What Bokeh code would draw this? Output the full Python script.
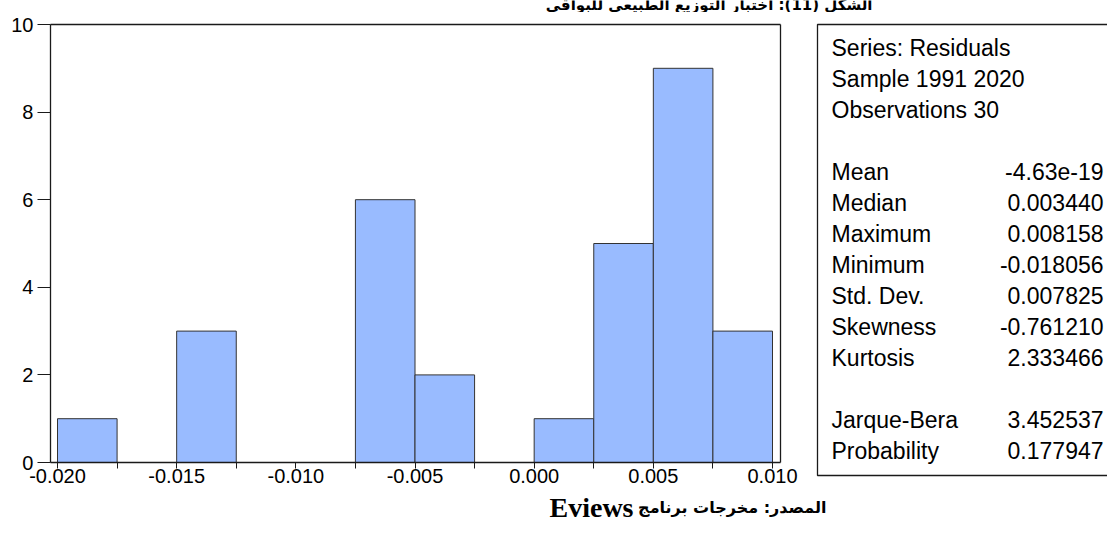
from bokeh.plotting import figure
from bokeh.layouts import column, row
from bokeh.models import Range1d, FixedTicker, PrintfTickFormatter, LinearAxis
from bokeh.core.properties import value
from bokeh.embed import file_html
from bokeh.resources import INLINE

# ---- data -------------------------------------------------------------
bin_left = [-0.0200, -0.0175, -0.0150, -0.0125, -0.0100, -0.0075,
            -0.0050, -0.0025, 0.0000, 0.0025, 0.0050, 0.0075]
bin_width = 0.0025
counts = [1, 0, 3, 0, 0, 6, 2, 0, 1, 5, 9, 3]

x_ticks = [-0.020, -0.015, -0.010, -0.005, 0.000, 0.005, 0.010]
y_ticks = [0, 2, 4, 6, 8, 10]

header_lines = ["Series: Residuals", "Sample 1991 2020", "Observations 30"]
stat_names = ["Mean", "Median", "Maximum", "Minimum", "Std. Dev.", "Skewness", "Kurtosis"]
stat_values = ["-4.63e-19", "0.003440", "0.008158", "-0.018056", "0.007825", "-0.761210", "2.333466"]
test_names = ["Jarque-Bera", "Probability"]
test_values = ["3.452537", "0.177947"]

caption_ar = "المصدر: مخرجات برنامج"
caption_en = "Eviews"
title_txt = "الشكل (11): اختبار التوزيع الطبيعي للبواقي"

RLE, PDF = "\u202b", "\u202c"
SANS = value("Liberation Sans")
AR_FONT = value("DejaVu Sans")
SERIF = value("Liberation Serif")
INK = "#1a1a1a"

W = 1107
TOP_A, BOT_A = 12, 488          # window rows covered by the middle row


def blank(w, h, x0, x1, ytop, ybot):
    f = figure(width=w, height=h, output_backend="svg", toolbar_location=None,
               x_range=Range1d(x0, x1), y_range=Range1d(ybot, ytop),
               x_axis_type=None, y_axis_type=None, min_border=0)
    f.outline_line_color = None
    f.grid.visible = False
    f.background_fill_color = "white"
    f.border_fill_color = "white"
    return f


# ---- clipped title strip ---------------------------------------------
T = blank(W, TOP_A, 0, W, 0, TOP_A)
T.text(x=[872], y=[4], text=[RLE + title_txt + PDF], text_align="right",
       text_baseline="alphabetic", text_font=AR_FONT, text_font_style="bold",
       text_font_size="15px", text_color="black")

# ---- histogram (frame = whole canvas, axes pinned inside) --------------
WA = 798
HA = BOT_A - TOP_A
X0, X1 = -0.020294, 0.010336           # plot-box edges
sx = (772 - 57) / 0.030                # px per x unit
sy = (462 - 24) / 10.0                 # px per count
A = figure(width=WA, height=HA, output_backend="svg", toolbar_location=None,
           x_range=Range1d(-0.020 - 57 / sx, 0.010 + (WA - 772) / sx),
           y_range=Range1d(-(BOT_A - 462) / sy, 10 + (24 - TOP_A) / sy),
           min_border=0, x_axis_location=None, y_axis_location=None)
A.background_fill_color = "white"
A.border_fill_color = "white"
A.outline_line_color = None
A.grid.visible = False

lefts = [l for l, c in zip(bin_left, counts) if c > 0]
rights = [l + bin_width for l, c in zip(bin_left, counts) if c > 0]
tops = [c for c in counts if c > 0]
A.quad(left=lefts, right=rights, bottom=0, top=tops,
       fill_color="#99BBFF", line_color="#333333", line_width=1)

edges = bin_left + [bin_left[-1] + bin_width]
minor = [e for e in edges if all(abs(e - t) > 1e-9 for t in x_ticks)]

xa = LinearAxis(fixed_location=0, bounds=(X0, X1),
                ticker=FixedTicker(ticks=x_ticks, minor_ticks=minor),
                formatter=PrintfTickFormatter(format="%.3f"))
xa.major_tick_out = 6
xa.major_tick_in = 0
xa.minor_tick_out = 6
xa.minor_tick_in = 0
xa.minor_tick_line_color = INK
xa.major_label_standoff = 0

ya = LinearAxis(fixed_location=X0, bounds=(0, 10), ticker=FixedTicker(ticks=y_ticks))
ya.major_tick_out = 13
ya.major_tick_in = 0
ya.minor_tick_line_color = None
ya.major_label_standoff = 4

for ax in (xa, ya):
    ax.axis_line_color = INK
    ax.axis_line_width = 1.3
    ax.major_tick_line_color = INK
    ax.major_label_text_font = "Liberation Sans"
    ax.major_label_text_font_size = "20px"
    ax.major_label_text_color = "black"

A.add_layout(xa, "below")
A.add_layout(ya, "left")

# top and right lines of the plot box (no ticks, no labels)
for side, kw in (("above", {"fixed_location": 10, "bounds": (X0, X1)}),
                 ("right", {"fixed_location": X1, "bounds": (0, 10)})):
    ax = LinearAxis(ticker=FixedTicker(ticks=[]), **kw)
    ax.axis_line_color = INK
    ax.axis_line_width = 1.3
    ax.major_tick_out = 0
    ax.major_tick_in = 0
    ax.minor_tick_out = 0
    ax.minor_tick_in = 0
    ax.major_label_standoff = 0
    ax.major_label_text_color = None
    A.add_layout(ax, side)

# ---- statistics box -----------------------------------------------------
WB = W - WA
B = blank(WB, HA, WA, W, TOP_A, BOT_A)
B.multi_line(xs=[[1120, 817, 817, 1120]], ys=[[24, 24, 475, 475]],
             line_color=INK, line_width=1.3)

rows = [(t, "") for t in header_lines] + [("", "")] + \
       list(zip(stat_names, stat_values)) + [("", "")] + list(zip(test_names, test_values))
ys = [47 + 31 * k for k in range(len(rows))]
names = [r[0] for r in rows]
vals = [r[1] for r in rows]
B.text(x=[831] * len(rows), y=ys, text=names, text_align="left", text_baseline="middle",
       text_font=SANS, text_font_size="23px", text_color="black")
B.text(x=[1103] * len(rows), y=ys, text=vals, text_align="right", text_baseline="middle",
       text_font=SANS, text_font_size="23px", text_color="black")

# ---- caption ------------------------------------------------------------
C = blank(W, 536 - BOT_A, 0, W, BOT_A, 536)
C.text(x=[826], y=[507], text=[RLE + caption_ar + PDF], text_align="right",
       text_baseline="alphabetic", text_font=AR_FONT, text_font_style="bold",
       text_font_size="16px", text_color="black")
C.text(x=[633], y=[507], text=[caption_en], text_align="right",
       text_baseline="alphabetic", text_font=SERIF, text_font_style="bold",
       text_font_size="28px", text_color="black")

page = column(T, row(A, B), C)
open("out.html", "w").write(file_html(page, INLINE))
